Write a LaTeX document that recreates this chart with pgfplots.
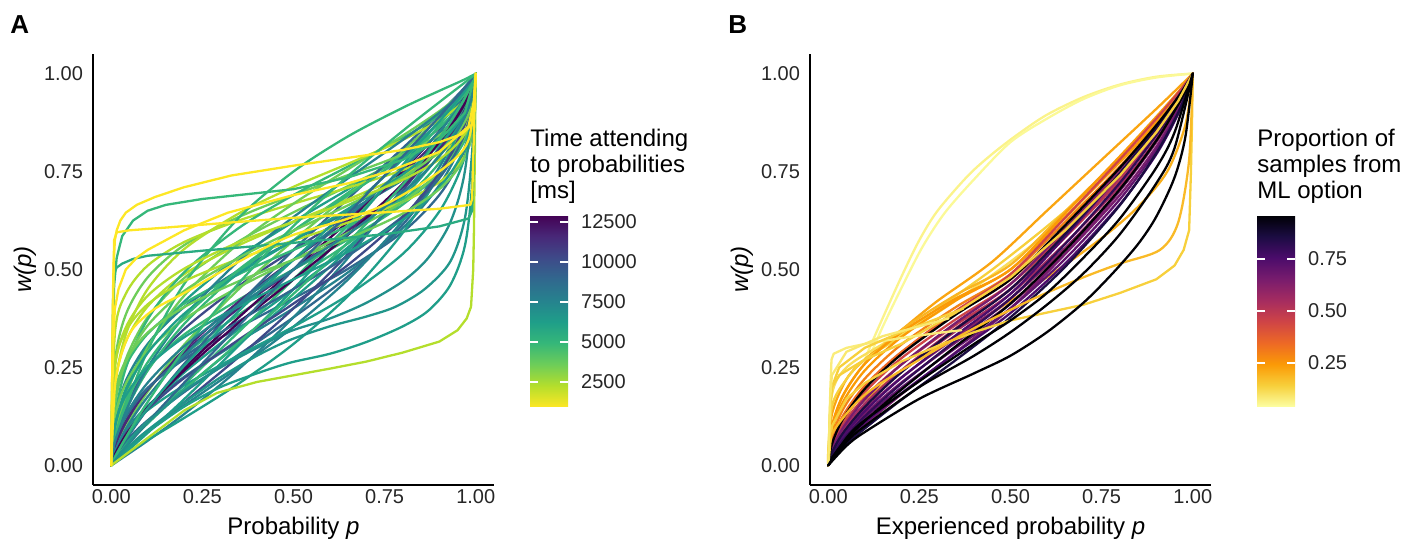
\documentclass[border=0pt]{standalone}
\usepackage{fontspec}
\setmainfont{Liberation Sans}
\usepackage{pgfplots}
\pgfplotsset{compat=1.18}
\definecolor{vir0}{RGB}{68,1,84}
\definecolor{vir1}{RGB}{72,40,120}
\definecolor{vir2}{RGB}{62,74,137}
\definecolor{vir3}{RGB}{49,104,142}
\definecolor{vir4}{RGB}{38,130,142}
\definecolor{vir5}{RGB}{31,158,137}
\definecolor{vir6}{RGB}{53,183,121}
\definecolor{vir7}{RGB}{109,205,89}
\definecolor{vir8}{RGB}{180,222,44}
\definecolor{vir9}{RGB}{253,231,37}
\definecolor{inf0}{RGB}{0,0,4}
\definecolor{inf1}{RGB}{27,12,66}
\definecolor{inf2}{RGB}{75,12,107}
\definecolor{inf3}{RGB}{120,28,109}
\definecolor{inf4}{RGB}{165,44,96}
\definecolor{inf5}{RGB}{207,68,70}
\definecolor{inf6}{RGB}{237,105,37}
\definecolor{inf7}{RGB}{251,154,6}
\definecolor{inf8}{RGB}{247,208,60}
\definecolor{inf9}{RGB}{252,255,164}
\pgfplotsset{
  cv/.style={smooth, line width=1.15pt, line join=round, line cap=round},
  cs/.style={line width=1.15pt, line join=round, line cap=round},
  panel/.style={
    scale only axis, width=200.5pt, height=215.5pt, anchor=south west,
    xmin=-0.05, xmax=1.05, ymin=-0.05, ymax=1.05,
    axis x line*=bottom, axis y line*=left,
    axis line style={line width=1.1pt, -},
    xtick={0,0.25,0.5,0.75,1}, xticklabels={0.00,0.25,0.50,0.75,1.00},
    ytick={0,0.25,0.5,0.75,1}, yticklabels={0.00,0.25,0.50,0.75,1.00},
    major tick length=0pt,
    tick label style={font=\fontsize{10}{12}\selectfont, text=black!85},
    xticklabel style={yshift=1.5pt},
    yticklabel style={xshift=-1.5pt},
    every axis y label/.style={at={(axis description cs:-0.17,0.5)}, rotate=90, anchor=center, font=\fontsize{12}{14}\selectfont},
    xlabel style={font=\fontsize{12}{14}\selectfont},
    ylabel={\textit{w(p)}},
    no marks,
    colorbar/width=19pt,
  },
  cbar/.style={
    scale only axis, width=19pt, height=96pt,
    at={(parent axis.south east)}, anchor=south west, yshift=39pt,
    axis line style={draw=none},
    scaled ticks=false,
    ytick pos=both, yticklabel pos=right,
    tick align=inside,
    major tick length=3.8pt,
    major tick style={white, line width=0.7pt},
    yticklabel style={font=\fontsize{10}{12}\selectfont, text=black!85, xshift=3pt},
  },
}
\begin{document}
\begin{tikzpicture}
\path[use as bounding box] (0,0) rectangle (710.5pt,273pt);
% ---------------- Panel A ----------------
\begin{axis}[panel, at={(46.5pt,30.5pt)},
  xlabel={Probability \textit{p}},
  colormap={virr}{rgb255=(253,231,37) rgb255=(180,222,44) rgb255=(109,205,89) rgb255=(53,183,121) rgb255=(31,158,137) rgb255=(38,130,142) rgb255=(49,104,142) rgb255=(62,74,137) rgb255=(72,40,120) rgb255=(68,1,84)},
  point meta min=940, point meta max=12940,
  colorbar,
  colorbar style={cbar, xshift=9.5pt,
    ytick={2500,5000,7500,10000,12500},
    yticklabels={2500,5000,7500,10000,12500}},
]
\addplot[cv,vir7] coordinates {(0,0)(.01,.154)(.04,.271)(.1,.378)(.2,.478)(.35,.572)(.5,.646)(.65,.713)(.8,.784)(.9,.846)(.96,.899)(.99,.948)(1,1)};
\addplot[cv,vir4] coordinates {(0,0)(.01,.119)(.04,.216)(.1,.310)(.2,.404)(.35,.498)(.5,.574)(.65,.648)(.8,.729)(.9,.802)(.96,.869)(.99,.931)(1,1)};
\addplot[cv,vir6] coordinates {(0,0)(.01,.091)(.04,.169)(.1,.250)(.2,.334)(.35,.423)(.5,.5)(.65,.577)(.8,.666)(.9,.750)(.96,.831)(.99,.909)(1,1)};
\addplot[cv,vir3] coordinates {(0,0)(.01,.069)(.04,.131)(.1,.198)(.2,.271)(.35,.352)(.5,.426)(.65,.502)(.8,.596)(.9,.690)(.96,.784)(.99,.881)(1,1)};
\addplot[cv,vir5] coordinates {(0,0)(.01,.094)(.04,.196)(.1,.306)(.2,.418)(.35,.532)(.5,.622)(.65,.705)(.8,.791)(.9,.861)(.96,.918)(.99,.963)(1,1)};
\addplot[cv,vir2] coordinates {(0,0)(.01,.072)(.04,.153)(.1,.246)(.2,.348)(.35,.458)(.5,.550)(.65,.639)(.8,.737)(.9,.821)(.96,.892)(.99,.951)(1,1)};
\addplot[cv,vir6] coordinates {(0,0)(.01,.054)(.04,.118)(.1,.195)(.2,.283)(.35,.385)(.5,.475)(.65,.567)(.8,.675)(.9,.772)(.96,.859)(.99,.935)(1,1)};
\addplot[cv,vir4] coordinates {(0,0)(.01,.041)(.04,.090)(.1,.152)(.2,.226)(.35,.316)(.5,.401)(.65,.493)(.8,.606)(.9,.715)(.96,.819)(.99,.914)(1,1)};
\addplot[cv,vir6] coordinates {(0,0)(.01,.056)(.04,.139)(.1,.242)(.2,.361)(.35,.493)(.5,.599)(.65,.696)(.8,.797)(.9,.874)(.96,.932)(.99,.974)(1,1)};
\addplot[cv,vir1] coordinates {(0,0)(.01,.042)(.04,.107)(.1,.192)(.2,.295)(.35,.418)(.5,.525)(.65,.629)(.8,.745)(.9,.838)(.96,.911)(.99,.965)(1,1)};
\addplot[cv,vir5] coordinates {(0,0)(.01,.032)(.04,.082)(.1,.149)(.2,.237)(.35,.348)(.5,.450)(.65,.557)(.8,.684)(.9,.792)(.96,.883)(.99,.953)(1,1)};
\addplot[cv,vir3] coordinates {(0,0)(.01,.024)(.04,.062)(.1,.115)(.2,.187)(.35,.283)(.5,.378)(.65,.483)(.8,.615)(.9,.739)(.96,.848)(.99,.938)(1,1)};
\addplot[cv,vir7] coordinates {(0,0)(.01,.033)(.04,.096)(.1,.188)(.2,.308)(.35,.450)(.5,.574)(.65,.690)(.8,.804)(.9,.887)(.96,.945)(.99,.982)(1,1)};
\addplot[cv,vir0] coordinates {(0,0)(.01,.025)(.04,.073)(.1,.147)(.2,.248)(.35,.378)(.5,.5)(.65,.622)(.8,.752)(.9,.853)(.96,.927)(.99,.975)(1,1)};
\addplot[cv,vir5] coordinates {(0,0)(.01,.018)(.04,.055)(.1,.113)(.2,.196)(.35,.310)(.5,.426)(.65,.550)(.8,.692)(.9,.812)(.96,.904)(.99,.967)(1,1)};
\addplot[cv,vir4] coordinates {(0,0)(.01,.014)(.04,.041)(.1,.086)(.2,.153)(.35,.250)(.5,.354)(.65,.475)(.8,.625)(.9,.761)(.96,.874)(.99,.956)(1,1)};
\addplot[cv,vir3] coordinates {(0,0)(.01,.019)(.04,.065)(.1,.144)(.2,.259)(.35,.411)(.5,.550)(.65,.681)(.8,.810)(.9,.898)(.96,.955)(.99,.987)(1,1)};
\addplot[cv,vir6] coordinates {(0,0)(.01,.014)(.04,.049)(.1,.111)(.2,.206)(.35,.341)(.5,.475)(.65,.613)(.8,.760)(.9,.868)(.96,.940)(.99,.983)(1,1)};
\addplot[cv,vir2] coordinates {(0,0)(.01,.011)(.04,.037)(.1,.085)(.2,.161)(.35,.277)(.5,.401)(.65,.540)(.8,.701)(.9,.829)(.96,.921)(.99,.977)(1,1)};
\addplot[cv,vir5] coordinates {(0,0)(.01,.008)(.04,.033)(.1,.083)(.2,.169)(.35,.306)(.5,.450)(.65,.603)(.8,.767)(.9,.881)(.96,.952)(.99,.988)(1,1)};
\addplot[cv,vir4] coordinates {(0,0)(.01,.006)(.04,.025)(.1,.063)(.2,.131)(.35,.246)(.5,.378)(.65,.530)(.8,.709)(.9,.846)(.96,.936)(.99,.984)(1,1)};
\addplot[cv,vir8] coordinates {(0,0)(.01,.208)(.04,.316)(.1,.406)(.2,.488)(.35,.562)(.5,.622)(.65,.679)(.8,.741)(.9,.799)(.96,.854)(.99,.912)(1,1)};
\addplot[cv,vir7] coordinates {(0,0)(.01,.261)(.04,.385)(.1,.480)(.2,.562)(.35,.634)(.5,.690)(.65,.741)(.8,.794)(.9,.843)(.96,.888)(.99,.933)(1,1)};
\addplot[cv,vir8] coordinates {(0,0)(.01,.336)(.04,.438)(.1,.510)(.2,.570)(.35,.625)(.5,.668)(.65,.709)(.8,.754)(.9,.796)(.96,.839)(.99,.889)(1,1)};
\addplot[cv,vir6] coordinates {(0,0)(.01,.162)(.04,.255)(.1,.336)(.2,.413)(.35,.488)(.5,.550)(.65,.611)(.8,.679)(.9,.746)(.96,.813)(.99,.885)(1,1)};
\addplot[cv,vir6] coordinates {(0,0)(.01,.123)(.04,.248)(.1,.373)(.2,.493)(.35,.606)(.5,.690)(.65,.763)(.8,.836)(.9,.893)(.96,.938)(.99,.972)(1,1)};
\addplot[cv,vir7] coordinates {(0,0)(.01,.074)(.04,.179)(.1,.301)(.2,.433)(.35,.567)(.5,.668)(.65,.756)(.8,.842)(.9,.904)(.96,.949)(.99,.980)(1,1)};
\addplot[cv,vir8] coordinates {(0,0)(.01,.198)(.04,.334)(.1,.450)(.2,.552)(.35,.643)(.5,.711)(.65,.770)(.8,.831)(.9,.881)(.96,.923)(.99,.961)(1,1)};
\addplot[cv,vir6] coordinates {(0,0)(.01,.046)(.04,.147)(.1,.293)(.2,.463)(.35,.632)(.5,.750)(.65,.840)(.8,.913)(.9,.956)(.96,.981)(.99,.995)(1,1)};
\addplot[cv,vir8] coordinates {(0,0)(.01,.253)(.04,.343)(.1,.411)(.2,.470)(.35,.527)(.5,.574)(.65,.620)(.8,.673)(.9,.723)(.96,.777)(.99,.843)(1,1)};
\addplot[cv,vir5] coordinates {(0,0)(.01,.042)(.04,.087)(.1,.141)(.2,.204)(.35,.281)(.5,.354)(.65,.435)(.8,.540)(.9,.648)(.96,.760)(.99,.873)(1,1)};
\addplot[cv,vir4] coordinates {(0,0)(.01,.052)(.04,.138)(.1,.250)(.2,.380)(.35,.522)(.5,.634)(.65,.733)(.8,.831)(.9,.900)(.96,.949)(.99,.982)(1,1)};
\addplot[cv,vir5] coordinates {(0,0)(.01,.009)(.04,.029)(.1,.065)(.2,.121)(.35,.209)(.5,.310)(.65,.433)(.8,.594)(.9,.745)(.96,.870)(.99,.957)(1,1)};
\addplot[cv,vir1] coordinates {(0,0)(.01,.048)(.04,.112)(.1,.193)(.2,.289)(.35,.401)(.5,.5)(.65,.599)(.8,.711)(.9,.807)(.96,.888)(.99,.952)(1,1)};
\addplot[cv,vir7] coordinates {(0,0)(.01,.122)(.04,.209)(.1,.291)(.2,.373)(.35,.455)(.5,.525)(.65,.594)(.8,.673)(.9,.748)(.96,.822)(.99,.898)(1,1)};
\addplot[cv,vir5] coordinates {(0,0)(.01,.097)(.04,.190)(.1,.287)(.2,.387)(.35,.490)(.5,.574)(.65,.655)(.8,.743)(.9,.819)(.96,.886)(.99,.944)(1,1)};
\addplot[cv,vir3] coordinates {(0,0)(.01,.061)(.04,.125)(.1,.196)(.2,.277)(.35,.368)(.5,.450)(.65,.535)(.8,.636)(.9,.733)(.96,.825)(.99,.911)(1,1)};
\addplot[cv,vir6] coordinates {(0,0)(.01,.070)(.04,.158)(.1,.263)(.2,.378)(.35,.5)(.5,.599)(.65,.690)(.8,.786)(.9,.862)(.96,.922)(.99,.967)(1,1)};
\addplot[cv,vir2] coordinates {(0,0)(.01,.034)(.04,.082)(.1,.144)(.2,.223)(.35,.321)(.5,.413)(.65,.512)(.8,.634)(.9,.746)(.96,.848)(.99,.933)(1,1)};
\addplot[cv,vir4] coordinates {(0,0)(.01,.034)(.04,.093)(.1,.175)(.2,.281)(.35,.411)(.5,.525)(.65,.636)(.8,.758)(.9,.852)(.96,.923)(.99,.972)(1,1)};
\addplot[cv,vir0] coordinates {(0,0)(.01,.028)(.04,.077)(.1,.148)(.2,.242)(.35,.364)(.5,.475)(.65,.589)(.8,.719)(.9,.825)(.96,.907)(.99,.966)(1,1)};
\addplot[cv,vir5] coordinates {(0,0)(.01,.022)(.04,.069)(.1,.146)(.2,.254)(.35,.394)(.5,.525)(.65,.652)(.8,.782)(.9,.878)(.96,.943)(.99,.982)(1,1)};
\addplot[cv,vir6] coordinates {(0,0)(.01,.015)(.04,.050)(.1,.107)(.2,.193)(.35,.314)(.5,.438)(.65,.570)(.8,.717)(.9,.835)(.96,.921)(.99,.975)(1,1)};
\addplot[cv,vir7] coordinates {(0,0)(.01,.158)(.04,.263)(.1,.357)(.2,.445)(.35,.530)(.5,.599)(.65,.664)(.8,.735)(.9,.801)(.96,.862)(.99,.922)(1,1)};
\addplot[cv,vir5] coordinates {(0,0)(.01,.102)(.04,.178)(.1,.252)(.2,.327)(.35,.406)(.5,.475)(.65,.545)(.8,.627)(.9,.709)(.96,.791)(.99,.878)(1,1)};
\addplot[cv,vir8] coordinates {(0,0)(.01,.248)(.04,.352)(.1,.433)(.2,.502)(.35,.570)(.5,.622)(.65,.673)(.8,.729)(.9,.781)(.96,.833)(.99,.892)(1,1)};
\addplot[cv,vir7] coordinates {(0,0)(.01,.181)(.04,.267)(.1,.339)(.2,.404)(.35,.470)(.5,.525)(.65,.579)(.8,.643)(.9,.705)(.96,.770)(.99,.847)(1,1)};
\addplot[cv,vir3] coordinates {(0,0)(.01,.013)(.04,.047)(.1,.110)(.2,.211)(.35,.357)(.5,.5)(.65,.643)(.8,.789)(.9,.890)(.96,.953)(.99,.987)(1,1)};
\addplot[cv,vir6] coordinates {(0,0)(.01,.019)(.04,.071)(.1,.162)(.2,.295)(.35,.465)(.5,.611)(.65,.739)(.8,.854)(.9,.927)(.96,.970)(.99,.992)(1,1)};
\addplot[cv,vir4] coordinates {(0,0)(.01,.060)(.04,.129)(.1,.211)(.2,.304)(.35,.409)(.5,.5)(.65,.591)(.8,.696)(.9,.789)(.96,.871)(.99,.940)(1,1)};
% lower S-shaped curves
\addplot[cv,vir5] coordinates {(0,0)(.05,.045)(.1,.085)(.2,.15)(.3,.2)(.4,.235)(.49,.262)(.6,.285)(.7,.315)(.8,.355)(.87,.395)(.93,.46)(.97,.56)(.99,.72)(1,1)};
\addplot[cv,vir5!70!vir4] coordinates {(0,0)(.05,.05)(.1,.09)(.2,.16)(.3,.225)(.4,.28)(.49,.32)(.6,.355)(.7,.38)(.78,.405)(.86,.45)(.93,.52)(.97,.63)(.99,.8)(1,1)};
\addplot[cv,vir4!50!vir5] coordinates {(0,0)(.05,.06)(.1,.11)(.2,.19)(.3,.25)(.4,.3)(.49,.342)(.6,.375)(.7,.415)(.8,.47)(.87,.53)(.93,.62)(.97,.75)(1,1)};
\addplot[cs,vir8] coordinates {(0,0)(.05,.035)(.1,.07)(.2,.14)(.29,.185)(.4,.213)(.5,.23)(.6,.247)(.7,.265)(.8,.288)(.9,.316)(.95,.345)(.975,.375)(.987,.405)(.993,.5)(.995,.6)(1,1)};
% flat outliers
\addplot[cs,vir5!50!vir6] coordinates {(0,0)(.005,.42)(.008,.49)(.015,.505)(.03,.515)(.06,.527)(.1,.535)(.25,.548)(.5,.568)(.75,.59)(.9,.61)(.98,.63)(.99,.65)(.995,.8)(1,1)};
\addplot[cs,vir6] coordinates {(0,0)(.004,.3)(.008,.46)(.015,.53)(.03,.585)(.06,.625)(.1,.65)(.15,.665)(.25,.68)(.35,.69)(.5,.705)(.65,.735)(.8,.78)(.9,.83)(.97,.9)(1,1)};
\addplot[cv,vir9] coordinates {(0,0)(.01,.2)(.03,.29)(.06,.35)(.12,.4)(.2,.44)(.35,.52)(.49,.585)(.65,.63)(.76,.67)(.9,.75)(.98,.83)(1,1)};
\addplot[cs,vir9] coordinates {(0,0)(.005,.3)(.01,.4)(.02,.45)(.04,.5)(.07,.53)(.1,.55)(.2,.6)(.32,.645)(.5,.69)(.65,.72)(.76,.75)(.9,.8)(.98,.865)(.995,.93)(1,1)};
\addplot[cs,vir9] coordinates {(0,0)(.005,.45)(.008,.575)(.015,.595)(.05,.6)(.15,.607)(.3,.618)(.5,.632)(.7,.643)(.9,.655)(.985,.665)(.99,.68)(.995,.85)(1,1)};
\addplot[cs,vir9] coordinates {(0,0)(.004,.35)(.007,.52)(.01,.575)(.015,.6)(.025,.625)(.04,.645)(.07,.665)(.12,.685)(.2,.71)(.33,.74)(.5,.765)(.65,.785)(.8,.805)(.9,.825)(.96,.845)(.99,.87)(.995,.93)(1,1)};
\end{axis}
% ---------------- Panel B ----------------
\begin{axis}[panel, at={(405pt,30.5pt)},
  xlabel={Experienced probability \textit{p}},
  colormap={infr}{rgb255=(252,255,164) rgb255=(247,208,60) rgb255=(251,154,6) rgb255=(237,105,37) rgb255=(207,68,70) rgb255=(165,44,96) rgb255=(120,28,109) rgb255=(75,12,107) rgb255=(27,12,66) rgb255=(0,0,4)},
  point meta min=0.038, point meta max=0.961,
  colorbar,
  colorbar style={cbar, xshift=14.5pt,
    ytick={0.25,0.5,0.75},
    yticklabels={0.25,0.50,0.75}},
]
\addplot[cv,inf9!75!inf8] coordinates {(.1,.27)(.137,.35)(.2,.48)(.25,.575)(.3,.65)(.384,.74)(.45,.795)(.52,.845)(.6,.895)(.7,.94)(.8,.972)(.9,.992)(1,1)};
\addplot[cv,inf9!88!inf8] coordinates {(.11,.27)(.15,.355)(.21,.47)(.26,.56)(.32,.645)(.4,.73)(.5,.825)(.6,.885)(.7,.935)(.8,.97)(.9,.99)(1,1)};
\addplot[cv,inf7!80!inf8] coordinates {(0,0)(.01,.13)(.05,.22)(.1,.27)(.2,.345)(.3,.42)(.45,.52)(.6,.65)(.75,.78)(.9,.91)(1,1)};
\addplot[cv,inf8] coordinates {(0,0)(.01,.15)(.05,.22)(.1,.27)(.2,.33)(.3,.40)(.45,.5)(.6,.61)(.75,.73)(.9,.87)(1,1)};
\addplot[cv,inf8!70!inf9] coordinates {(0,0)(.01,.18)(.05,.25)(.15,.31)(.3,.39)(.5,.52)(.7,.67)(.85,.81)(.95,.93)(1,1)};
\addplot[cv,inf7!60!inf8] coordinates {(0,0)(.05,.12)(.2,.24)(.4,.36)(.6,.48)(.75,.58)(.85,.66)(.93,.75)(.98,.87)(1,1)};
\addplot[cv,inf7!50!inf8] coordinates {(0,0)(.01,.095)(.04,.177)(.1,.259)(.2,.345)(.35,.435)(.5,.512)(.65,.648)(.8,.786)(.9,.884)(.96,.948)(.99,.985)(1,1)};
\addplot[cv,inf7] coordinates {(0,0)(.01,.099)(.04,.178)(.1,.259)(.2,.339)(.35,.426)(.5,.5)(.65,.643)(.8,.789)(.9,.890)(.96,.953)(.99,.987)(1,1)};
\addplot[cv,inf7] coordinates {(0,0)(.01,.084)(.04,.161)(.1,.242)(.2,.327)(.35,.421)(.5,.5)(.65,.634)(.8,.774)(.9,.876)(.96,.944)(.99,.984)(1,1)};
\addplot[cv,inf6!50!inf7] coordinates {(0,0)(.01,.070)(.04,.142)(.1,.221)(.2,.308)(.35,.404)(.5,.488)(.65,.621)(.8,.763)(.9,.868)(.96,.940)(.99,.982)(1,1)};
\addplot[cv,inf5] coordinates {(0,0)(.01,.052)(.04,.117)(.1,.196)(.2,.287)(.35,.394)(.5,.488)(.65,.632)(.8,.781)(.9,.885)(.96,.951)(.99,.987)(1,1)};
\addplot[cv,inf6] coordinates {(0,0)(.01,.059)(.04,.126)(.1,.203)(.2,.289)(.35,.387)(.5,.475)(.65,.606)(.8,.748)(.9,.857)(.96,.933)(.99,.979)(1,1)};
\addplot[cv,inf5] coordinates {(0,0)(.01,.052)(.04,.113)(.1,.187)(.2,.273)(.35,.373)(.5,.463)(.65,.594)(.8,.737)(.9,.848)(.96,.928)(.99,.977)(1,1)};
\addplot[cv,inf5!60!inf4] coordinates {(0,0)(.01,.045)(.04,.102)(.1,.174)(.2,.257)(.35,.359)(.5,.450)(.65,.582)(.8,.727)(.9,.842)(.96,.924)(.99,.976)(1,1)};
\addplot[cv,inf4] coordinates {(0,0)(.01,.035)(.04,.086)(.1,.156)(.2,.242)(.35,.350)(.5,.450)(.65,.585)(.8,.735)(.9,.849)(.96,.931)(.99,.979)(1,1)};
\addplot[cv,inf4] coordinates {(0,0)(.01,.038)(.04,.089)(.1,.157)(.2,.241)(.35,.343)(.5,.438)(.65,.567)(.8,.713)(.9,.832)(.96,.918)(.99,.974)(1,1)};
\addplot[cv,inf3] coordinates {(0,0)(.01,.040)(.04,.095)(.1,.168)(.2,.257)(.35,.364)(.5,.463)(.65,.603)(.8,.756)(.9,.866)(.96,.941)(.99,.983)(1,1)};
\addplot[cv,inf4!40!inf3] coordinates {(0,0)(.01,.032)(.04,.079)(.1,.143)(.2,.224)(.35,.327)(.5,.426)(.65,.555)(.8,.703)(.9,.825)(.96,.915)(.99,.972)(1,1)};
\addplot[cv,inf3] coordinates {(0,0)(.01,.027)(.04,.071)(.1,.131)(.2,.211)(.35,.314)(.5,.413)(.65,.540)(.8,.690)(.9,.813)(.96,.908)(.99,.970)(1,1)};
\addplot[cv,inf3] coordinates {(0,0)(.01,.017)(.04,.050)(.1,.103)(.2,.181)(.35,.289)(.5,.401)(.65,.540)(.8,.701)(.9,.829)(.96,.921)(.99,.977)(1,1)};
\addplot[cv,inf2!50!inf3] coordinates {(0,0)(.01,.024)(.04,.064)(.1,.121)(.2,.198)(.35,.300)(.5,.401)(.65,.527)(.8,.679)(.9,.805)(.96,.904)(.99,.968)(1,1)};
\addplot[cv,inf2] coordinates {(0,0)(.01,.028)(.04,.073)(.1,.138)(.2,.223)(.35,.332)(.5,.438)(.65,.584)(.8,.745)(.9,.863)(.96,.941)(.99,.984)(1,1)};
\addplot[cv,inf2] coordinates {(0,0)(.01,.020)(.04,.056)(.1,.109)(.2,.184)(.35,.287)(.5,.389)(.65,.515)(.8,.666)(.9,.794)(.96,.897)(.99,.965)(1,1)};
\addplot[cv,inf1!50!inf2] coordinates {(0,0)(.01,.023)(.04,.064)(.1,.125)(.2,.208)(.35,.319)(.5,.426)(.65,.565)(.8,.721)(.9,.843)(.96,.928)(.99,.979)(1,1)};
\addplot[cv,inf1] coordinates {(0,0)(.01,.015)(.04,.046)(.1,.094)(.2,.167)(.35,.269)(.5,.378)(.65,.507)(.8,.664)(.9,.797)(.96,.900)(.99,.968)(1,1)};
\addplot[cv,inf1] coordinates {(0,0)(.01,.032)(.04,.082)(.1,.149)(.2,.237)(.35,.348)(.5,.450)(.65,.591)(.8,.746)(.9,.861)(.96,.938)(.99,.983)(1,1)};
\addplot[cv,inf0] coordinates {(0,0)(.01,.019)(.04,.056)(.1,.113)(.2,.193)(.35,.304)(.5,.413)(.65,.549)(.8,.705)(.9,.829)(.96,.921)(.99,.976)(1,1)};
\addplot[cv,inf0] coordinates {(0,0)(.01,.054)(.04,.118)(.1,.195)(.2,.283)(.35,.385)(.5,.475)(.65,.613)(.8,.760)(.9,.868)(.96,.940)(.99,.983)(1,1)};
% lower-right yellow curves
\addplot[cs,inf8] coordinates {(0,0)(.01,.1)(.05,.17)(.1,.21)(.2,.265)(.3,.305)(.4,.34)(.5,.37)(.6,.39)(.7,.41)(.8,.44)(.9,.475)(.95,.51)(.975,.55)(.99,.6)(.995,.75)(.998,.88)(1,1)};
\addplot[cv,inf8!60!inf7] coordinates {(0,0)(.01,.08)(.1,.18)(.25,.27)(.4,.35)(.567,.427)(.7,.48)(.8,.515)(.91,.55)(.96,.62)(.99,.78)(1,1)};
\addplot[cs,inf8] coordinates {(0,0)(.006,.17)(.01,.2)(.03,.23)(.1,.27)(.2,.31)(.35,.39)(.5,.48)(.65,.6)(.8,.74)(.9,.85)(.96,.93)(1,1)};
% short light curves
\addplot[cs,inf9!60!inf8] coordinates {(0,0)(.006,.2)(.009,.27)(.015,.285)(.05,.3)(.1,.31)(.2,.325)(.3,.338)(.365,.345)};
\addplot[cs,inf8] coordinates {(0,0)(.006,.15)(.01,.2)(.03,.25)(.1,.3)(.2,.34)(.3,.375)(.37,.4)};
\addplot[cs,inf8!50!inf9] coordinates {(0,0)(.006,.18)(.01,.23)(.05,.29)(.15,.33)(.25,.355)(.33,.375)};
% black lower curves
\addplot[cv,inf0] coordinates {(0,0)(.05,.05)(.1,.085)(.25,.17)(.4,.235)(.5,.28)(.6,.34)(.7,.415)(.78,.49)(.85,.565)(.9,.635)(.95,.735)(.98,.84)(1,1)};
\addplot[cv,inf0] coordinates {(0,0)(.05,.06)(.1,.1)(.25,.2)(.4,.28)(.5,.34)(.6,.41)(.7,.49)(.8,.59)(.9,.72)(.95,.81)(1,1)};
\addplot[cv,inf0] coordinates {(0,0)(.05,.07)(.1,.115)(.25,.215)(.4,.31)(.5,.37)(.6,.44)(.7,.53)(.8,.63)(.9,.76)(.95,.85)(1,1)};
\end{axis}
% legend titles and panel tags
\node[anchor=north west, align=left, inner sep=0pt, font=\fontsize{12}{13}\selectfont] at (265pt,208.5pt) {Time attending\\to probabilities\\{[ms]}};
\node[anchor=north west, align=left, inner sep=0pt, font=\fontsize{12}{13}\selectfont] at (628.5pt,208.5pt) {Proportion of\\samples from\\ML option};
\node[anchor=north west, inner sep=0pt, font=\bfseries\fontsize{13}{15}\selectfont] at (5pt,265.5pt) {A};
\node[anchor=north west, inner sep=0pt, font=\bfseries\fontsize{13}{15}\selectfont] at (364pt,265.5pt) {B};
\end{tikzpicture}
\end{document}
